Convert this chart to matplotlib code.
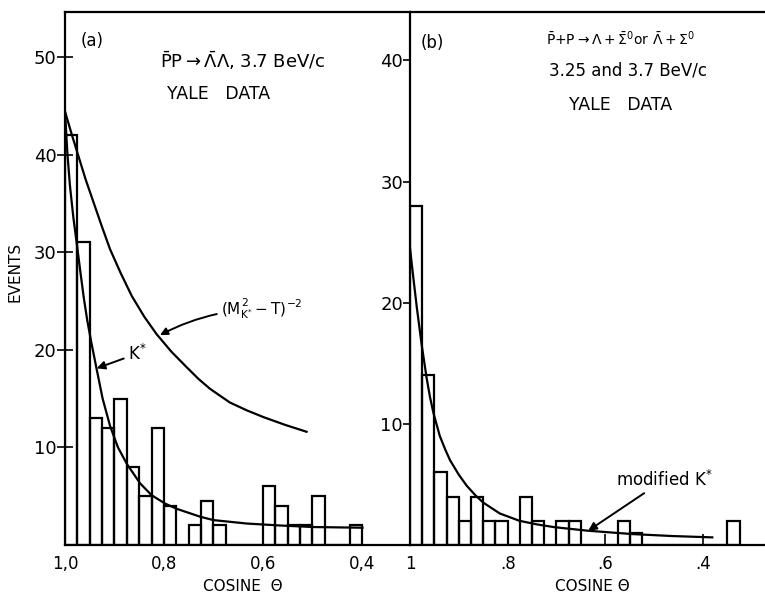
import numpy as np
import matplotlib
matplotlib.use("Agg")
import matplotlib.pyplot as plt

# ---- data ----
# panel (a): bins of 0.025 in cos(theta), starting at 1.0 going down to 0.4
a_counts = [42, 31, 13, 12, 15, 8, 5, 12, 4, 0, 2, 4.5, 2, 0, 0, 0, 6, 4, 2, 2, 5, 0, 0, 2]
# K* exchange curve
kstar_cos = [1.0, 0.995, 0.99, 0.983, 0.976, 0.969, 0.962, 0.955, 0.947, 0.936,
             0.924, 0.909, 0.893, 0.875, 0.848, 0.825, 0.798, 0.774, 0.727, 0.700,
             0.633, 0.566, 0.498, 0.399]
kstar_val = [44.4, 40.0, 36.8, 33.5, 30.8, 28.0, 25.3, 23.0, 20.8, 18.0,
             15.0, 12.2, 10.0, 8.3, 6.3, 5.1, 4.25, 3.7, 2.9, 2.55,
             2.2, 2.0, 1.84, 1.77]
# (M^2 - T)^-2 curve
prop_cos = [1.0, 0.986, 0.972, 0.958, 0.943, 0.926, 0.909, 0.887, 0.865, 0.840,
            0.815, 0.785, 0.754, 0.730, 0.707, 0.687, 0.667, 0.633, 0.599, 0.555, 0.512]
prop_val = [44.4, 42.0, 39.7, 37.4, 35.2, 32.7, 30.3, 27.8, 25.5, 23.4,
            21.6, 19.8, 18.2, 17.0, 16.0, 15.3, 14.6, 13.8, 13.1, 12.3, 11.6]

# panel (b): bins of 0.025 from 1 down to 0.325
b_counts = [28, 14, 6, 4, 2, 4, 2, 2, 0, 4, 2, 0, 2, 2, 0, 0, 0, 2, 1,
            0, 0, 0, 0, 0, 0, 0, 2]
# modified K* curve
mod_cos = [1.0, 0.993, 0.986, 0.976, 0.966, 0.959, 0.952, 0.939, 0.928, 0.918,
           0.900, 0.884, 0.866, 0.850, 0.816, 0.776, 0.740, 0.704, 0.636, 0.544,
           0.463, 0.381]
mod_val = [24.5, 22.0, 19.6, 16.5, 13.8, 12.2, 10.9, 9.0, 7.9, 7.0,
           5.8, 4.9, 4.1, 3.5, 2.6, 2.0, 1.7, 1.47, 1.18, 0.9,
           0.74, 0.63]

bin_w = 0.025

plt.rcParams['font.family'] = ['DejaVu Sans']
plt.rcParams['mathtext.fontset'] = 'dejavusans'

fig = plt.figure(figsize=(7.65, 5.94), dpi=100)
W, H = 765, 594
axa = fig.add_axes([65 / W, 49 / H, 345 / W, 533 / H])
axb = fig.add_axes([410 / W, 49 / H, 355 / W, 533 / H])

lw = 1.6

# ---- panel (a) ----
a_left = 1.0 - bin_w * np.arange(1, len(a_counts) + 1)
axa.bar(a_left, a_counts, width=bin_w, align='edge', fill=False,
        edgecolor='black', linewidth=lw)
axa.plot(kstar_cos, kstar_val, color='black', linewidth=lw)
axa.plot(prop_cos, prop_val, color='black', linewidth=lw)
axa.set_xlim(1.0, 0.303)
axa.set_ylim(0, 54.6)
axa.spines['right'].set_visible(False)
axa.set_xticks([1.0, 0.8, 0.6, 0.4])
axa.set_xticklabels(['1,0', '0,8', '0,6', '0,4'])
axa.set_xticks([0.9, 0.7, 0.5], minor=True)
axa.set_yticks([10, 20, 30, 40, 50])
axa.tick_params(axis='x', which='both', direction='in', length=8, width=1.2,
                pad=7, labelsize=12)
axa.tick_params(axis='y', direction='inout', length=12, width=1.2, pad=0,
                labelsize=13)
axa.set_xlabel('COSINE  \u0398', fontsize=11)
axa.xaxis.label.set_va('center')
axa.xaxis.set_label_coords(0.516, -0.077)
axa.set_ylabel('EVENTS', fontsize=11)
axa.yaxis.set_label_coords(-0.122, 0.512)

axa.text(0.078, 0.946, '(a)', transform=axa.transAxes, fontsize=12,
         ha='center', va='center')
axa.text(0.275, 0.908, r'$\bar{\mathrm{P}}$P$\rightarrow\bar{\Lambda}\Lambda$, 3.7 BeV/c',
         transform=axa.transAxes, fontsize=13, ha='left', va='center')
axa.text(0.296, 0.846, 'YALE   DATA', transform=axa.transAxes, fontsize=12.5,
         ha='left', va='center')
axa.annotate(r'$(\mathrm{M}_{\mathrm{K}^{*}}^{\,2}-\mathrm{T})^{-2}$',
             xy=(0.808, 21.5), xytext=(0.685, 24.2), fontsize=11,
             ha='left', va='center',
             arrowprops=dict(arrowstyle='-|>', color='black', lw=1.4,
                             connectionstyle='arc3,rad=0.12', shrinkA=1, shrinkB=0))
axa.annotate(r'K$^{*}$', xy=(0.936, 18.1), xytext=(0.873, 19.6), fontsize=12,
             ha='left', va='center',
             arrowprops=dict(arrowstyle='-|>', color='black', lw=1.4,
                             shrinkA=1, shrinkB=0))

# ---- panel (b) ----
b_left = 1.0 - bin_w * np.arange(1, len(b_counts) + 1)
axb.bar(b_left, b_counts, width=bin_w, align='edge', fill=False,
        edgecolor='black', linewidth=lw)
axb.plot(mod_cos, mod_val, color='black', linewidth=lw)
axb.set_xlim(1.0, 0.273)
axb.set_ylim(0, 44.0)
axb.spines['right'].set_visible(False)
axb.set_xticks([1.0, 0.8, 0.6, 0.4])
axb.set_xticklabels(['1', '.8', '.6', '.4'])
axb.set_yticks([10, 20, 30, 40])
axb.tick_params(axis='x', direction='in', length=8, width=1.2, pad=7,
                labelsize=12)
axb.tick_params(axis='y', direction='out', length=5, width=1.2, pad=0,
                labelsize=13)
axb.set_xlabel('COSINE \u0398', fontsize=11)
axb.xaxis.label.set_va('center')
axb.xaxis.set_label_coords(0.513, -0.077)

axb.text(0.062, 0.942, '(b)', transform=axb.transAxes, fontsize=12,
         ha='center', va='center')
axb.text(0.592, 0.949,
         r'$\bar{\mathrm{P}}$+P$\rightarrow\Lambda+\bar{\Sigma}^{0}$or $\bar{\Lambda}+\Sigma^{0}$',
         transform=axb.transAxes, fontsize=10, ha='center', va='center')
axb.text(0.614, 0.891, '3.25 and 3.7 BeV/c', transform=axb.transAxes,
         fontsize=12, ha='center', va='center')
axb.text(0.592, 0.826, 'YALE   DATA', transform=axb.transAxes, fontsize=12.5,
         ha='center', va='center')
axb.annotate(r'modified K$^{*}$', xy=(0.635, 1.18), xytext=(0.578, 5.4),
             fontsize=12, ha='left', va='center',
             arrowprops=dict(arrowstyle='-|>', color='black', lw=1.4,
                             shrinkA=1, shrinkB=0))

for ax in (axa, axb):
    for sp in ax.spines.values():
        sp.set_linewidth(1.6)

fig.savefig('out.png', dpi=100)
